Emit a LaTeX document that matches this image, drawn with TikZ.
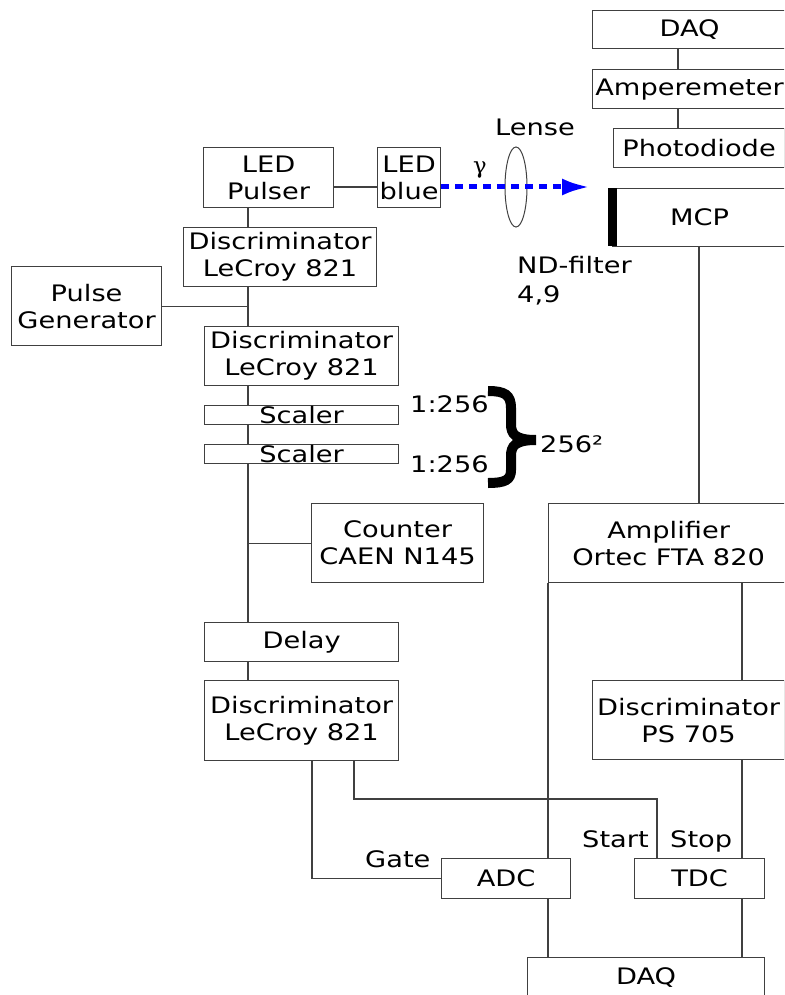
\documentclass[tikz,border=0pt]{standalone}
\usepackage{fontspec}
\usepackage{graphicx}
\setmainfont{DejaVu Sans}[FakeStretch=1.2]
\newfontfamily\serifg{DejaVu Serif}
\usetikzlibrary{arrows.meta}
\newcommand\mybox[6]{\node[box, minimum width={#4-#2}, minimum height={#5-#3}] (#1) at (#2,#3) {#6};}
\begin{document}
\begin{tikzpicture}[x=1pt,y=-1pt,
  every node/.style={font=\fontsize{22.7}{27}\selectfont, text=black},
  box/.style={draw=black!75, line width=1.2pt, inner sep=0pt, align=center, anchor=north west},
  wire/.style={draw=black!75, line width=1.2pt},
  lbl/.style={inner sep=0pt, anchor=base west}]
\useasboundingbox (0,0) rectangle (784,995);
\clip (0,0) rectangle (784,995);

% boxes
\mybox{daqT}{592}{10}{786}{48}{DAQ}
\mybox{amp}{592}{69}{786}{108}{Amperemeter}
\mybox{photo}{613}{128}{784}{167}{Photodiode}
\mybox{mcp}{612}{188}{786}{246}{MCP}
\mybox{ledp}{203}{147}{333}{207}{LED\\Pulser}
\mybox{ledb}{377}{147}{440}{207}{LED\\blue}
\mybox{discA}{183}{227}{376}{286}{Discriminator\\LeCroy 821}
\mybox{pulse}{11}{266}{161}{345}{Pulse\\Generator}
\mybox{discB}{204}{326}{398}{385}{Discriminator\\LeCroy 821}
\mybox{scA}{204}{405}{398}{424}{Scaler}
\mybox{scB}{204}{444}{398}{463}{Scaler}
\mybox{counter}{311}{503}{483}{582}{Counter\\CAEN N145}
\mybox{ampl}{548}{503}{788}{582}{Amplifier\\Ortec FTA 820}
\mybox{delay}{204}{622}{398}{661}{Delay}
\mybox{discC}{204}{680}{398}{760}{Discriminator\\LeCroy 821}
\mybox{discps}{592}{680}{784}{759}{Discriminator\\PS 705}
\mybox{adc}{441}{858}{570}{898}{ADC}
\mybox{tdc}{634}{858}{764}{898}{TDC}
\mybox{daqB}{527}{957}{764}{997}{DAQ}

% filter bar
\fill[black] (608,188) rectangle (617,246);

% helper coordinates
\coordinate (spine) at (248,0);
\coordinate (ly) at (0,187);
\coordinate (gx) at (312,0);
\coordinate (s1) at (354,799);
\coordinate (s2) at (657,0);
\coordinate (mx) at (699,0);
\coordinate (ax) at (548,0);
\coordinate (tx) at (742,0);
\coordinate (dx) at (678,0);
\coordinate (tip) at (590,187);

% left chain
\draw[wire] (ledp.south -| spine) -- (discA.north -| spine);
\draw[wire] (ledp.east |- ly) -- (ledb.west |- ly);
\draw[wire] (discA.south -| spine) -- (discB.north -| spine);
\draw[wire] (pulse.east) -- (pulse.east -| spine);
\draw[wire] (discB.south -| spine) -- (scA.north -| spine);
\draw[wire] (scA.south -| spine) -- (scB.north -| spine);
\draw[wire] (scB.south -| spine) -- (delay.north -| spine);
\draw[wire] (counter.west) -- (counter.west -| spine);
\draw[wire] (delay.south -| spine) -- (discC.north -| spine);
\draw[wire] (discC.south -| gx) |- (adc.west);
\draw[wire] (discC.south -| s1) -- (s1) -| (tdc.north -| s2);

% right chain
\draw[wire] (daqT.south -| dx) -- (amp.north -| dx);
\draw[wire] (amp.south -| dx) -- (photo.north -| dx);
\draw[wire] (mcp.south -| mx) -- (ampl.north -| mx);
\draw[wire] (ampl.south -| ax) -- (adc.north -| ax);
\draw[wire] (adc.south -| ax) -- (daqB.north -| ax);
\draw[wire] (ampl.south -| tx) -- (discps.north -| tx);
\draw[wire] (discps.south -| tx) -- (tdc.north -| tx);
\draw[wire] (tdc.south -| tx) -- (daqB.north -| tx);

% lens and light
\draw[black!75, line width=1pt] (516,187) ellipse [x radius=11, y radius=40];
\draw[blue, line width=5pt, dash pattern=on 8pt off 6pt, -{Latex[length=28pt,width=17pt]}] (ledb.east |- ly) -- (tip);

% brace
\draw[black, line width=10pt, line join=miter]
  (488,391) .. controls (505,391) and (511,395) .. (511,408) -- (511,424)
  .. controls (511,434) and (515,440) .. (536,440)
  .. controls (515,440) and (511,446) .. (511,456) -- (511,470)
  .. controls (511,480) and (505,483) .. (488,483);

% labels
\node[lbl] (lense) at (495,136) {Lense};
\node[inner sep=0pt] (gamma) at (480,170) {\serifg γ};
\node[lbl] (nd1) at (517,273) {ND-filter};
\node[lbl] (nd2) at (517,302) {4,9};
\node[lbl] (r1) at (410,412) {1:256};
\node[lbl] (r2) at (410,472) {1:256};
\node[lbl] (sq) at (540,452) {256²};
\node[lbl] (gate) at (365,867) {Gate};
\node[lbl] (start) at (582,847) {Start};
\node[lbl] (stop) at (670,847) {Stop};
\end{tikzpicture}
\end{document}
